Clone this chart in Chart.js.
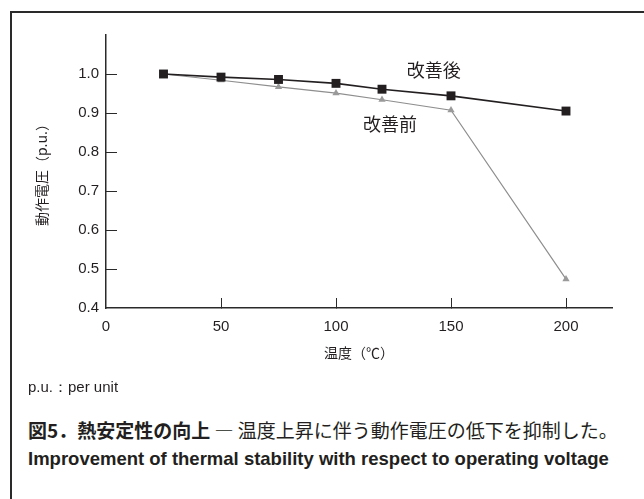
<!DOCTYPE html>
<html>
<head>
<meta charset="utf-8">
<script src="https://cdn.jsdelivr.net/npm/chart.js@4/dist/chart.umd.min.js"></script>
<style>
  html, body { margin: 0; padding: 0; background: #fff; }
  #wrap { position: relative; width: 644px; height: 499px; overflow: hidden; background: #fff; }
  #frame { position: absolute; left: 10px; top: 11px; right: 0; bottom: 0;
           border-top: 2px solid #2a2a2a; border-left: 2px solid #2a2a2a; }
  #chart { position: absolute; left: 0; top: 0; }
  .txt { position: absolute; white-space: nowrap; color: #231f20; line-height: 24px; }
  #note { left: 28px; top: 375px; font: 15px "Liberation Sans", Arial, sans-serif; line-height: 24px; }
  #cap1 { left: 28px; top: 418px; font-size: 19px; font-family: "Noto Sans CJK JP", sans-serif; }
  #cap1 b { font-weight: 700; }
  #cap1 span { font-weight: 400; }
  #cap2 { left: 28px; top: 447px; font: bold 18.5px "Liberation Sans", Arial, sans-serif; line-height: 24px; }
</style>
</head>
<body>
<div id="wrap">
  <div id="frame"></div>
  <canvas id="chart" width="644" height="380"></canvas>
  <div class="txt" id="note">p.u.：per unit</div>
  <div class="txt" id="cap1"><b>図5．熱安定性の向上</b><span> ― 温度上昇に伴う動作電圧の低下を抑制した。</span></div>
  <div class="txt" id="cap2">Improvement of thermal stability with respect to operating voltage</div>
</div>
<script>
// ---- data ----
const temperatures = [25, 50, 75, 100, 120, 150, 200];          // 温度 (℃)
const afterImprovement  = [1.000, 0.992, 0.986, 0.976, 0.961, 0.944, 0.905]; // 改善後
const beforeImprovement = [1.000, 0.984, 0.967, 0.951, 0.934, 0.907, 0.474]; // 改善前
const seriesNames = ['改善後', '改善前'];
const xTitle = '温度（℃）';
const yTitle = '動作電圧（p.u.）';
// label anchors in data space (temperature, voltage)
const labelAnchors = [[142.5, 1.011], [123.5, 0.872]];

const toPts = (ys) => temperatures.map((t, i) => ({ x: t, y: ys[i] }));

const seriesLabels = {
  id: 'seriesLabels',
  afterDatasetsDraw(chart) {
    const { ctx, scales: { x, y } } = chart;
    ctx.save();
    ctx.font = '18px "Noto Sans CJK JP", sans-serif';
    ctx.fillStyle = '#231f20';
    ctx.textAlign = 'center';
    ctx.textBaseline = 'middle';
    seriesNames.forEach((n, i) => {
      ctx.fillText(n, x.getPixelForValue(labelAnchors[i][0]), y.getPixelForValue(labelAnchors[i][1]));
    });
    ctx.restore();
  }
};

Chart.defaults.font.family = '"Liberation Sans", Arial, sans-serif';
Chart.defaults.color = '#231f20';

new Chart(document.getElementById('chart'), {
  type: 'line',
  data: {
    datasets: [
      {
        label: seriesNames[0],
        data: toPts(afterImprovement),
        borderColor: '#231f20',
        backgroundColor: '#231f20',
        borderWidth: 1.6,
        pointStyle: 'rect',
        pointRadius: 6.3,
        pointBorderWidth: 0,
        tension: 0
      },
      {
        label: seriesNames[1],
        data: toPts(beforeImprovement),
        borderColor: '#8e8e8e',
        backgroundColor: '#9a9a9a',
        borderWidth: 1.2,
        pointStyle: 'triangle',
        pointRadius: 4.2,
        pointBorderWidth: 0,
        tension: 0
      }
    ]
  },
  options: {
    responsive: false,
    animation: false,
    devicePixelRatio: 1,
    layout: { padding: { left: 0, top: 35, right: 32, bottom: 0 } },
    plugins: { legend: { display: false }, tooltip: { enabled: false } },
    scales: {
      x: {
        type: 'linear',
        min: 0, max: 220,
        border: { display: true, color: '#2a2a2a', width: 1.5 },
        grid: {
          drawOnChartArea: false,
          drawTicks: true,
          tickLength: -10,
          lineWidth: 1,
          color: (c) => (c.tick && c.tick.value === 0) ? 'rgba(0,0,0,0)' : '#2a2a2a'
        },
        ticks: { stepSize: 50, includeBounds: false, padding: 20, font: { size: 15 }, color: '#231f20', maxRotation: 0 },
        title: { display: true, text: xTitle, color: '#231f20',
                 font: { family: '"Noto Sans CJK JP", sans-serif', size: 14 }, padding: { top: 0, bottom: 18.6 } },
        afterFit: (s) => { s.height = 72; }
      },
      y: {
        type: 'linear',
        min: 0.4, max: 1.1,
        border: { display: true, color: '#2a2a2a', width: 1.5 },
        grid: {
          drawOnChartArea: false,
          drawTicks: true,
          tickLength: -11,
          lineWidth: 1,
          color: (c) => (c.tick && (c.tick.value > 1.05 || c.tick.value < 0.45)) ? 'rgba(0,0,0,0)' : '#2a2a2a'
        },
        ticks: { stepSize: 0.1, padding: 18, font: { size: 15 }, color: '#231f20',
                 callback: (v) => (v > 1.05 ? '' : Number(v).toFixed(1)) },
        title: { display: true, text: yTitle, color: '#231f20',
                 font: { family: '"Noto Sans CJK JP", sans-serif', size: 14 }, padding: { top: 33, bottom: 0 } },
        afterFit: (s) => { s.width = 106; }
      }
    }
  },
  plugins: [seriesLabels]
});
</script>
</body>
</html>
